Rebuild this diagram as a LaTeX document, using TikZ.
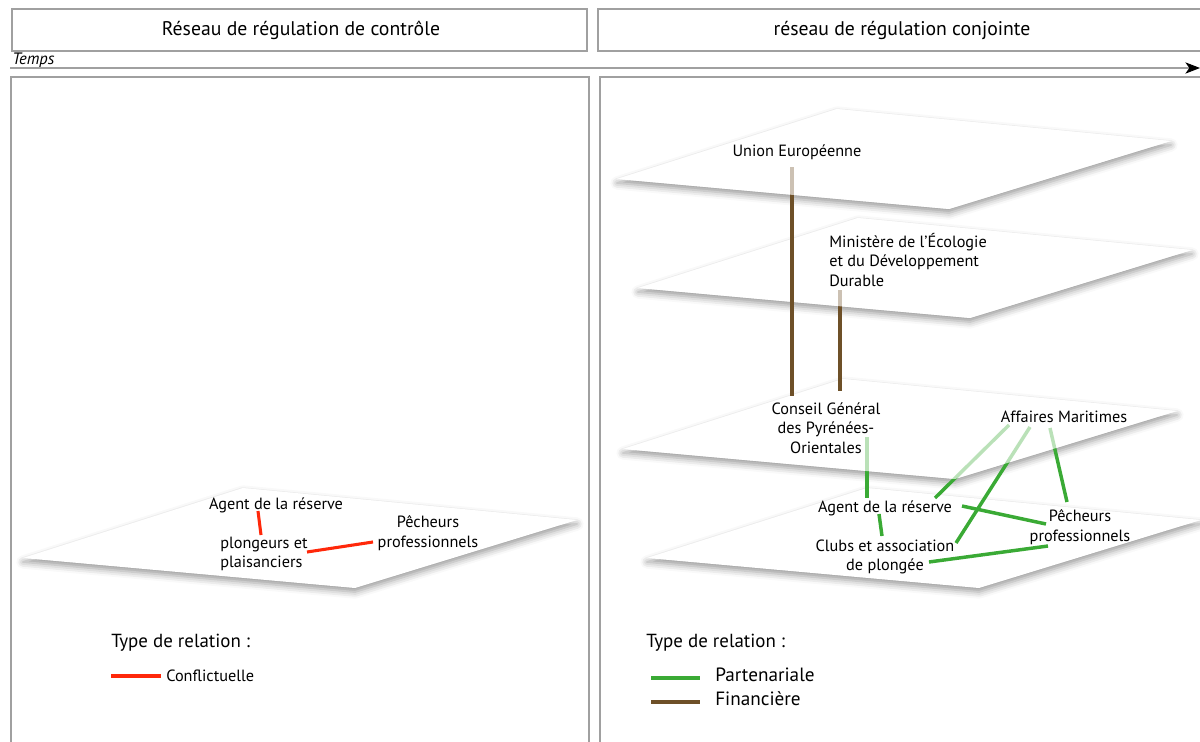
\documentclass[tikz,border=0pt]{standalone}
\usepackage{fontspec}
\setmainfont{PT Sans}
\usetikzlibrary{arrows.meta,calc,shadows.blur}

\definecolor{cadregris}{RGB}{160,160,160}
\definecolor{rouge}{RGB}{255,40,10}
\definecolor{vert}{RGB}{58,170,53}
\definecolor{brun}{RGB}{110,80,40}

\pgfdeclarelayer{fond}
\pgfsetlayers{fond,main}

% one plane of the stack, given by its left corner
\newcommand{\plan}[3][plan]{\fill[#1] (#2,#3) -- ++(220,-70) -- ++(334,32) -- ++(-222,68) -- cycle;}

\begin{document}
\begin{tikzpicture}[x=0.75pt, y=-0.75pt,
  every node/.style={inner sep=0pt},
  lbl/.style={font=\fontsize{12.2}{14.6}\selectfont, align=center},
  titre/.style={font=\fontsize{14.8}{17}\selectfont},
  leg/.style={font=\fontsize{14.4}{17}\selectfont, anchor=west},
  cadre/.style={draw=cadregris, line width=0.8pt},
  plan/.style={fill=white, blur shadow={shadow xshift=0pt, shadow yshift=-3pt,
               shadow blur radius=5pt, shadow opacity=40}},
  voile/.style={fill=white, fill opacity=0.65},
  conf/.style={draw=rouge, line width=2.3pt},
  part/.style={draw=vert, line width=2.6pt},
  fin/.style={draw=brun, line width=2.5pt},
]
  \useasboundingbox (0,0) rectangle (1200,742);

  % Headers and time axis
  \draw[cadre] (12,9) rectangle (587,51);
  \draw[cadre] (598,9) rectangle (1215,51);
  \node[titre] (tgauche) at (301,30) {Réseau de régulation de contrôle};
  \node[titre] (tdroite) at (902,30) {réseau de régulation conjointe};
  \node[font=\itshape\fontsize{12.4}{14}\selectfont, anchor=west] (temps) at (12,60) {Temps};
  \coordinate (t0) at (10,68);
  \coordinate (t1) at (1200,68);
  \draw[cadre, -{Stealth[black, length=11pt, width=8.5pt, inset=3pt]}] (t0) -- (t1);

  % Panels
  \draw[cadre] (11,77) rectangle (589,760);
  \draw[cadre] (600,77) rectangle (1215,760);

  % Left panel: actors
  \node[lbl] (agentg) at (276,505) {Agent de la réserve};
  \node[lbl, align=left, anchor=west] (plong) at (220,554) {plongeurs et\\plaisanciers};
  \node[lbl] (pecheg) at (428,533) {Pêcheurs\\professionnels};

  % Right panel: actors
  \node[lbl] (ue) at (797,152) {Union Européenne};
  \node[lbl, align=left, anchor=west] (medd) at (829,260)
    {Ministère de l'Écologie\\et du Développement\\Durable};
  \node[lbl] (cg) at (826,428) {Conseil Général\\des Pyrénées-\\Orientales};
  \node[lbl] (affmar) at (1064,417) {Affaires Maritimes};
  \node[lbl] (agentd) at (885,508) {Agent de la réserve};
  \node[lbl] (peched) at (1080,527) {Pêcheurs\\professionnels};
  \node[lbl] (clubs) at (885,557) {Clubs et association\\de plongée};

  % Legends
  \node[leg, font=\fontsize{14.2}{16}\selectfont] (typeg) at (111,643) {Type de relation :};
  \node[lbl, anchor=west] (legconf) at (166,676) {Conflictuelle};
  \node[leg, font=\fontsize{14.2}{16}\selectfont] (typed) at (646,643) {Type de relation :};
  \node[leg] (legpart) at (715,675) {Partenariale};
  \node[leg] (legfin) at (715,699) {Financière};

  \begin{pgfonlayer}{fond}
    % Planes, lowest first
    \plan{23}{558}
    \plan{647}{558}
    \plan{623}{449}
    \plan{638}{288}
    \plan{617}{179}

    % Links starting on the third plane
    \draw[part] ($(cg.center)+(41,9)$) -- ($(agentd.center)+(-18,-10)$);
    \draw[part] ($(affmar.center)+(-55,8)$) -- ($(agentd.center)+(50,-10)$);
    \draw[part] ($(affmar.center)+(-34,10)$) -- ($(clubs.center)+(71,-14)$);
    \draw[part] ($(affmar.center)+(-14,11)$) -- ($(peched.center)+(-13,-25)$);
    \plan[voile]{623}{449}

    % Funding links
    \draw[fin] ($(medd.west)+(11,30)$) -- ($(cg.center)+(14,-37)$);
    \plan[voile]{638}{288}
    \draw[fin] ($(ue.center)+(-5,15)$) -- ($(cg.center)+(-34,-32)$);
    \plan[voile]{617}{179}

    % Links on the lowest plane
    \draw[part] ($(agentd.center)+(-6,6)$) -- ($(clubs.center)+(-3,-21)$);
    \draw[part] ($(agentd.center)+(77,-2)$) -- ($(peched.center)+(-34,-3)$);
    \draw[part] ($(clubs.center)+(44,5)$) -- ($(peched.center)+(-32,19)$);
    \draw[conf] ($(agentg.center)+(-18,6)$) -- ($(plong.west)+(41,-19)$);
    \draw[conf] ($(plong.west)+(87,-2)$) -- ($(pecheg.center)+(-55,9)$);

    % Legend lines
    \draw[conf] ($(legconf.west)+(-55,0)$) -- ($(legconf.west)+(-5,0)$);
    \draw[part, line width=3pt] ($(legpart.west)+(-64,3)$) -- ($(legpart.west)+(-15,3)$);
    \draw[fin, line width=3pt] ($(legfin.west)+(-64,3)$) -- ($(legfin.west)+(-15,3)$);
  \end{pgfonlayer}
\end{tikzpicture}
\end{document}
